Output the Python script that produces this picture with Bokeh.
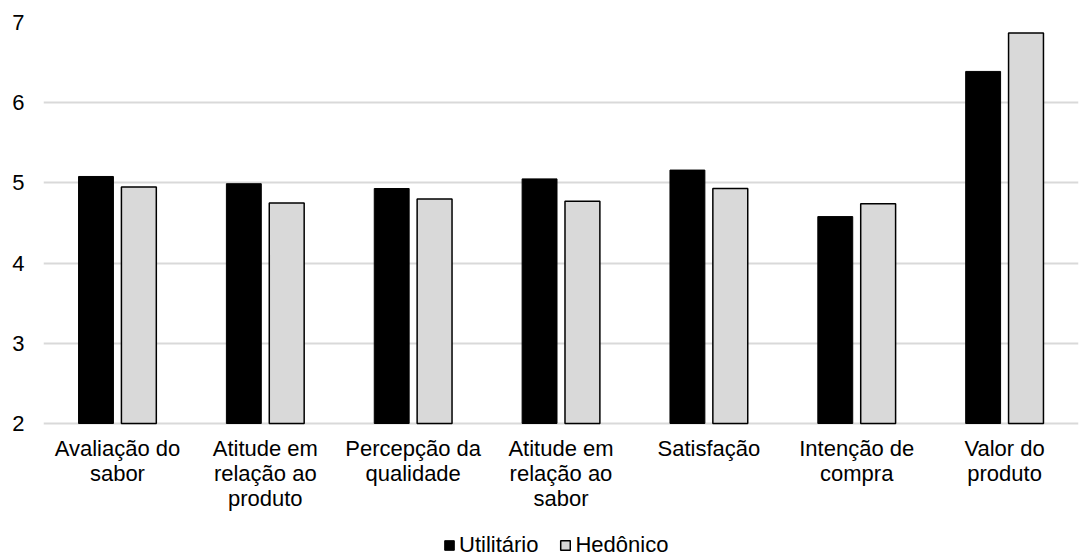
from bokeh.plotting import figure
from bokeh.models import FactorRange, ColumnDataSource, Legend, LegendItem, Range1d, FixedTicker
from bokeh.transform import dodge
from bokeh.core.properties import value
from bokeh.embed import file_html
from bokeh.resources import INLINE

categories = ["Avaliação do\nsabor", "Atitude em\nrelação ao\nproduto", "Percepção da\nqualidade",
              "Atitude em\nrelação ao\nsabor", "Satisfação", "Intenção de\ncompra", "Valor do\nproduto"]
utilitario = [5.08, 4.99, 4.93, 5.05, 5.16, 4.58, 6.39]
hedonico = [4.95, 4.75, 4.80, 4.77, 4.93, 4.74, 6.87]
y_ticks = [2, 3, 4, 5, 6, 7]

src = ColumnDataSource(dict(cat=categories, u=utilitario, h=hedonico))

FONT = "Liberation Sans"
FRAME_H = 536           # frame spans from the "7" gridline to the bottom of the page
PX_PER_UNIT = 401 / 5   # 5 value units over 401 px
y_lo = 7 - FRAME_H / PX_PER_UNIT

p = figure(frame_width=1035, frame_height=FRAME_H, x_range=FactorRange(*categories, range_padding=0),
           y_range=Range1d(y_lo, 7), output_backend="svg", toolbar_location=None,
           min_border_left=43, min_border_right=1, min_border_top=22, min_border_bottom=0)
p.outline_line_color = None

r1 = p.vbar(x=dodge('cat', -0.145, range=p.x_range), top='u', bottom=2, width=0.236, source=src,
            fill_color="black", line_color="black", line_width=1)
r2 = p.vbar(x=dodge('cat', 0.145, range=p.x_range), top='h', bottom=2, width=0.236, source=src,
            fill_color="#d9d9d9", line_color="black", line_width=1.5)

# category labels under the baseline
p.text(x='cat', y=2, text='cat', source=src, y_offset=12,
       text_font=value(FONT), text_font_size="22px", text_color="black",
       text_align="center", text_baseline="top", text_line_height=1.0)

p.xaxis.visible = False

p.yaxis.ticker = FixedTicker(ticks=y_ticks)
p.yaxis.axis_line_color = None
p.yaxis.major_tick_line_color = None
p.yaxis.minor_tick_line_color = None
p.yaxis.major_tick_out = 0
p.yaxis.major_tick_in = 0
p.yaxis.minor_tick_out = 0
p.yaxis.major_label_text_font = FONT
p.yaxis.major_label_text_font_size = "22px"
p.yaxis.major_label_text_color = "black"
p.yaxis.major_label_standoff = 19

p.xgrid.grid_line_color = None
p.ygrid.ticker = FixedTicker(ticks=y_ticks)
p.ygrid.grid_line_color = "#d9d9d9"
p.ygrid.grid_line_width = 2

legend = Legend(items=[LegendItem(label="Utilitário", renderers=[r1]),
                       LegendItem(label="Hedônico", renderers=[r2])],
                orientation="horizontal", location=(400, 0),
                label_text_font=FONT, label_text_font_size="22px", label_text_color="black",
                glyph_width=12, glyph_height=12, label_height=22, spacing=21, label_standoff=4,
                border_line_color=None, background_fill_alpha=0, padding=0, margin=0)
p.add_layout(legend, "center")

open("out.html", "w").write(file_html(p, INLINE))
